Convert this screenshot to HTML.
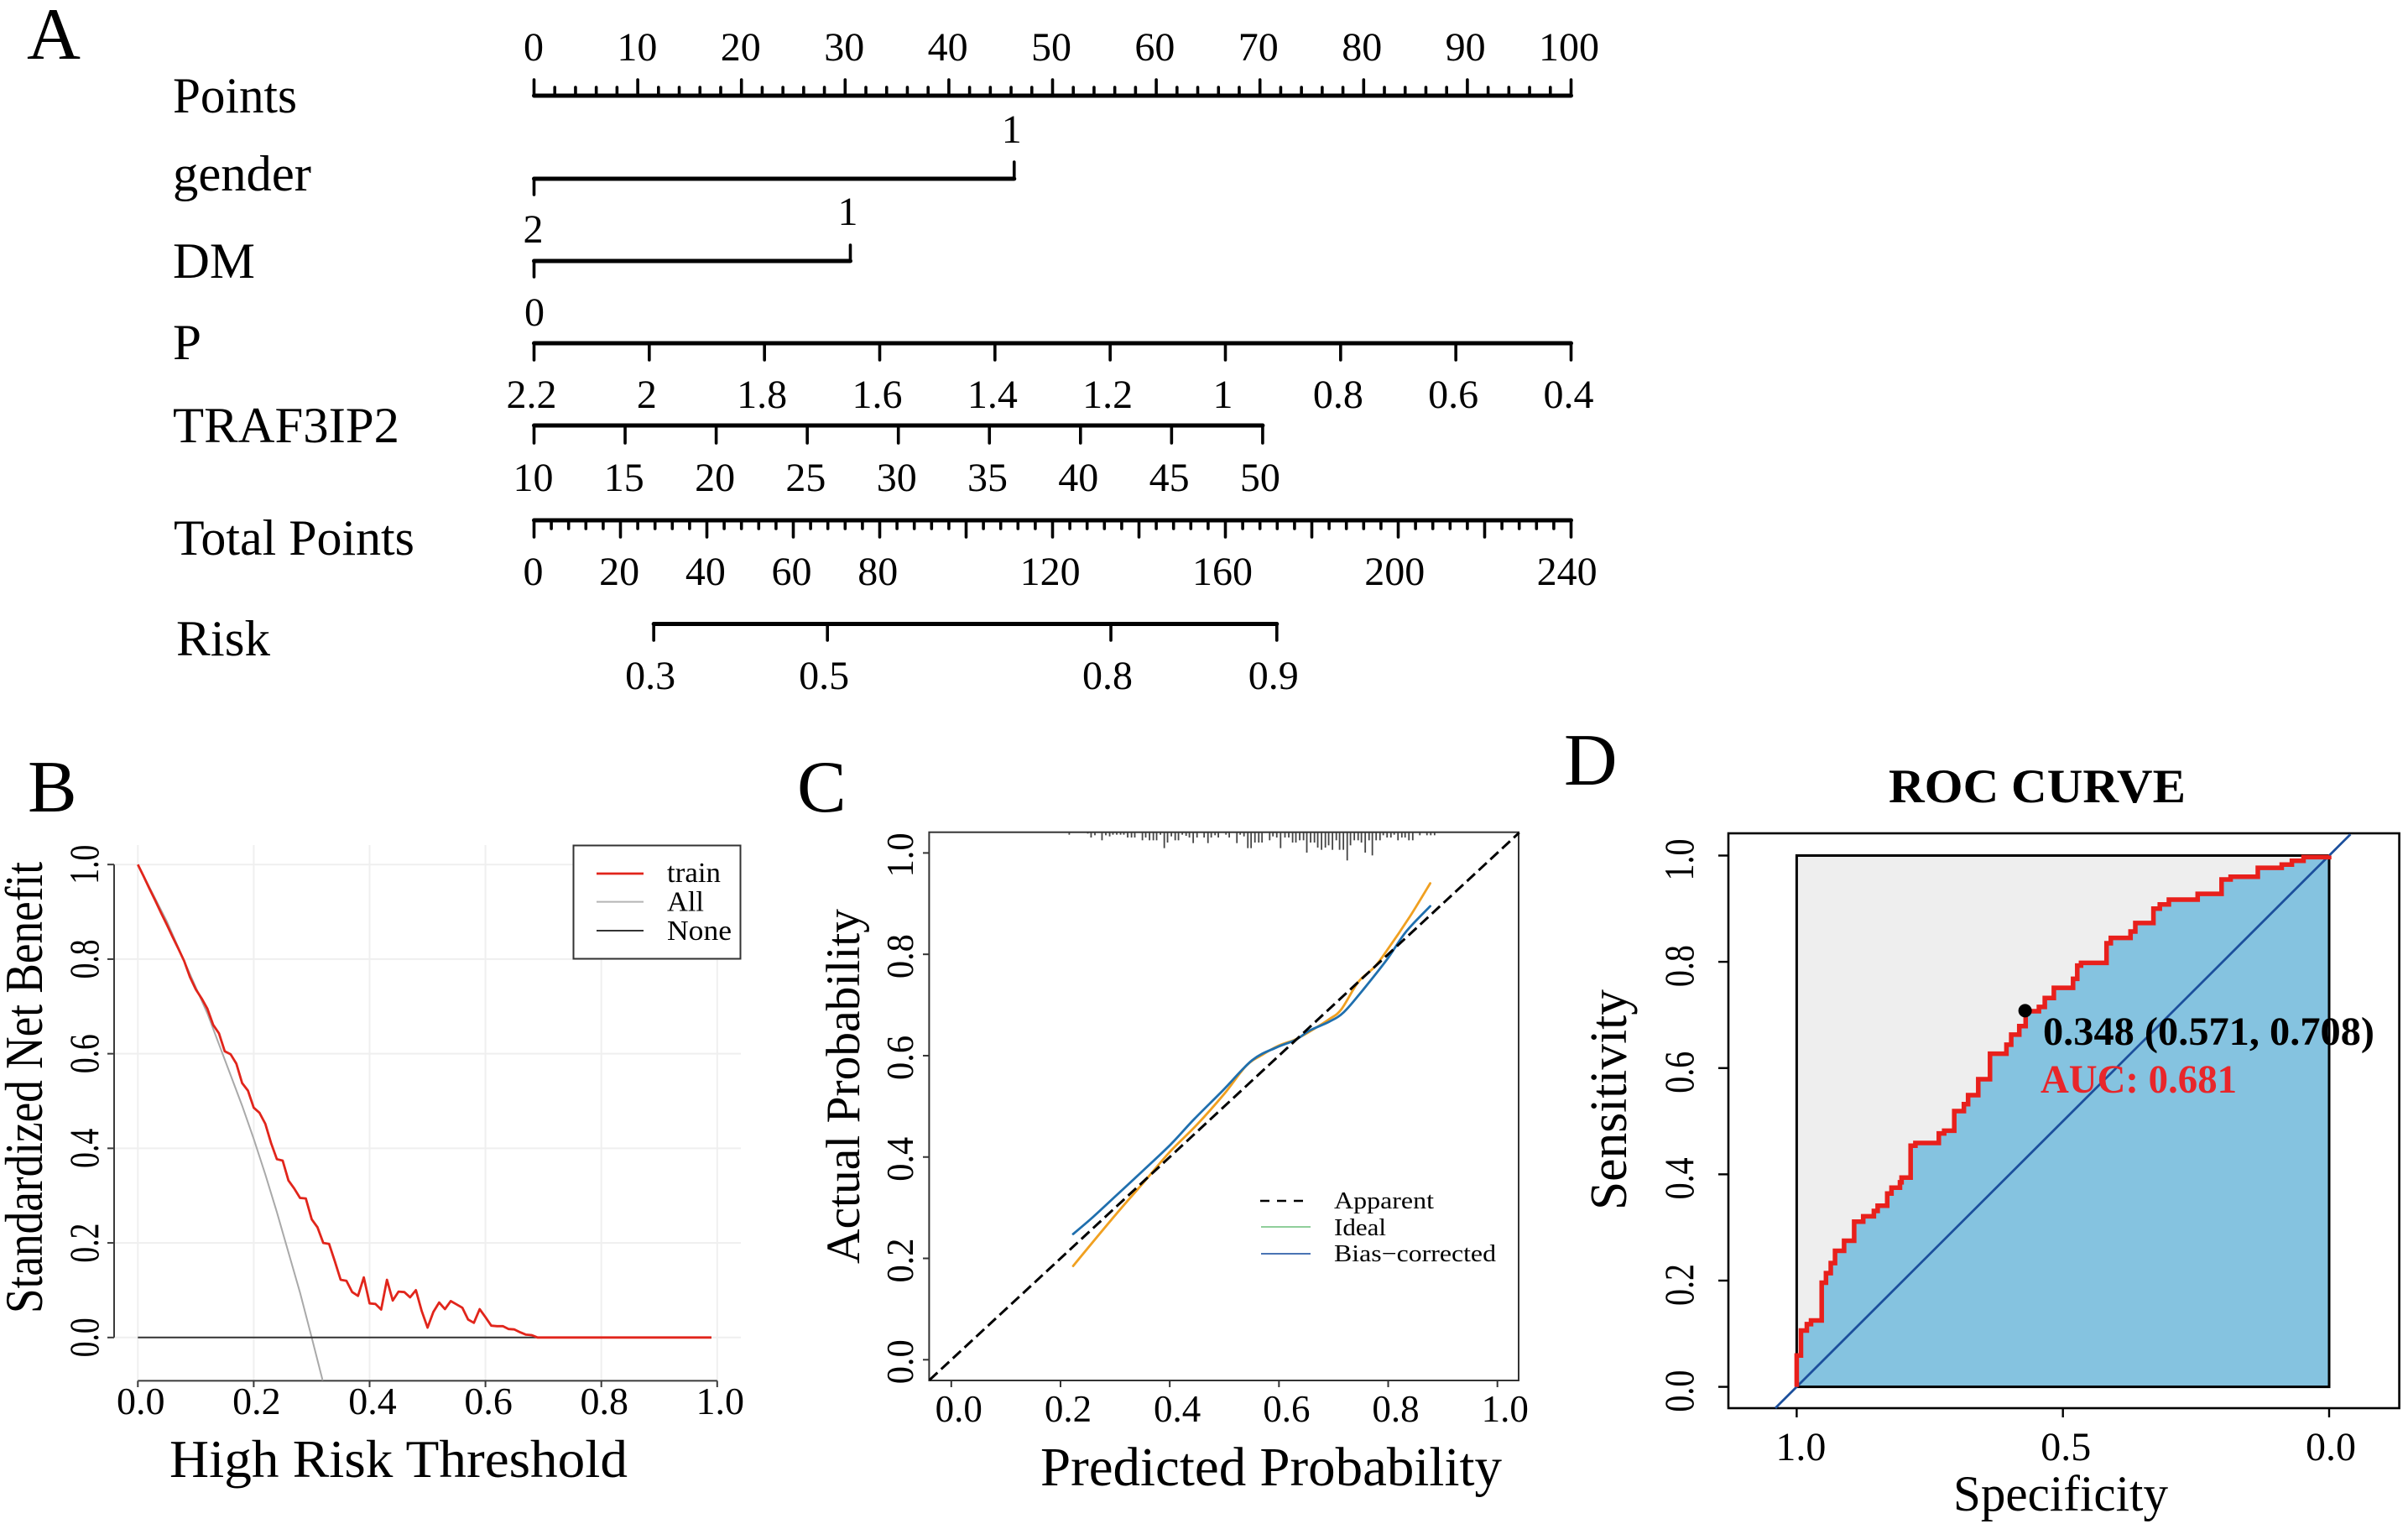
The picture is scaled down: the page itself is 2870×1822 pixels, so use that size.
<!DOCTYPE html>
<html lang="en">
<head>
<meta charset="utf-8">
<title>Nomogram, decision curve, calibration and ROC panels</title>
<style>
html,body{margin:0;padding:0;background:#fff;}
svg{display:block;}
text{font-family:"Liberation Serif",serif;fill:#000;}
</style>
</head>
<body>
<svg id="fig" xmlns="http://www.w3.org/2000/svg" width="2870" height="1822" viewBox="0 0 2870 1822">
  <rect x="0" y="0" width="2870" height="1822" fill="#fff"/>
  <g id="panelA">
    <text x="32" y="70" font-size="88" fill="#231815" textLength="64" lengthAdjust="spacingAndGlyphs">A</text>
    <text x="206" y="134" font-size="60" textLength="148" lengthAdjust="spacingAndGlyphs">Points</text>
    <text x="206" y="227" font-size="60" textLength="165" lengthAdjust="spacingAndGlyphs">gender</text>
    <text x="206" y="331" font-size="60" textLength="98" lengthAdjust="spacingAndGlyphs">DM</text>
    <text x="206" y="428" font-size="60" textLength="34" lengthAdjust="spacingAndGlyphs">P</text>
    <text x="206" y="527" font-size="60" textLength="270" lengthAdjust="spacingAndGlyphs">TRAF3IP2</text>
    <text x="207" y="661" font-size="60" textLength="287" lengthAdjust="spacingAndGlyphs">Total Points</text>
    <text x="210" y="781" font-size="60" textLength="112" lengthAdjust="spacingAndGlyphs">Risk</text>
  </g>
  <g id="panelB">
    <text x="33" y="967" font-size="88" fill="#231815">B</text>
    <text transform="translate(50,1565) rotate(-90)" font-size="64" textLength="538" lengthAdjust="spacingAndGlyphs">Standardized Net Benefit</text>
    <text x="202" y="1760" font-size="64" textLength="546" lengthAdjust="spacingAndGlyphs">High Risk Threshold</text>
  </g>
  <g id="panelC">
    <text x="950" y="967" font-size="88" fill="#231815">C</text>
    <text transform="translate(1024,1506) rotate(-90)" font-size="57" textLength="423" lengthAdjust="spacingAndGlyphs">Actual Probability</text>
    <text x="1240" y="1770" font-size="66" textLength="550" lengthAdjust="spacingAndGlyphs">Predicted Probability</text>
  </g>
  <g id="panelD">
    <text x="1864" y="935" font-size="88" fill="#231815">D</text>
    <text x="2251" y="956" font-size="57" font-weight="bold" textLength="354" lengthAdjust="spacingAndGlyphs">ROC CURVE</text>
    <text transform="translate(1938,1442) rotate(-90)" font-size="62" textLength="263" lengthAdjust="spacingAndGlyphs">Sensitivity</text>
    <text x="2328" y="1800" font-size="60" textLength="256" lengthAdjust="spacingAndGlyphs">Specificity</text>
  </g>
</svg>
<script>
// ---- Panel A values ----
var pointsTicks = [0,10,20,30,40,50,60,70,80,90,100];
var pointsMinor = [2,4,6,8,12,14,16,18,22,24,26,28,32,34,36,38,42,44,46,48,52,54,56,58,62,64,66,68,72,74,76,78,82,84,86,88,92,94,96,98];
var genderPoints = [0,46.3];
var genderLabels = ["1"];
var dmPoints = [0,30.5];
var dmLabels = ["2","1"];
var pValues = [2.2,2,1.8,1.6,1.4,1.2,1,0.8,0.6,0.4];
var pLabels = ["2.2","2","1.8","1.6","1.4","1.2","1","0.8","0.6","0.4"];
var trafValues = [10,15,20,25,30,35,40,45,50];
var totalTicks = [0,20,40,60,80,100,120,140,160,180,200,220,240];
var totalLabelled = [0,20,40,60,80,120,160,200,240];
var riskLabels = ["0.3","0.5","0.8","0.9"];
var riskTotalPoints = [27.7,67.9,133.5,171.9];

// ---- Panel B values ----
var thresholdTicks = [0,0.2,0.4,0.6,0.8,1];
var benefitTicks = [0,0.2,0.4,0.6,0.8,1];
var trainThreshold = [0,0.01,0.02,0.03,0.04,0.05,0.06,0.07,0.08,0.09,0.1,0.11,0.12,0.13,0.14,0.15,0.16,0.17,0.18,0.19,0.2,0.21,0.22,0.23,0.24,0.25,0.26,0.27,0.28,0.29,0.3,0.31,0.32,0.33,0.34,0.35,0.36,0.37,0.38,0.39,0.4,0.41,0.42,0.43,0.44,0.45,0.46,0.47,0.48,0.49,0.5,0.51,0.52,0.53,0.54,0.55,0.56,0.57,0.58,0.59,0.6,0.61,0.62,0.63,0.64,0.65,0.66,0.67,0.68,0.69,0.99];
var trainBenefit = [1,0.975,0.949,0.924,0.898,0.873,0.847,0.822,0.796,0.762,0.736,0.717,0.695,0.661,0.643,0.605,0.599,0.579,0.538,0.522,0.486,0.475,0.452,0.411,0.377,0.374,0.332,0.315,0.295,0.294,0.25,0.233,0.2,0.198,0.161,0.122,0.12,0.096,0.088,0.127,0.072,0.071,0.059,0.122,0.078,0.097,0.096,0.085,0.1,0.056,0.021,0.054,0.074,0.06,0.077,0.07,0.063,0.038,0.031,0.06,0.043,0.025,0.024,0.024,0.018,0.017,0.011,0.006,0.005,0,0];
var allThreshold = [0,0.05,0.1,0.12,0.14,0.16,0.18,0.2,0.22,0.24,0.26,0.28,0.3,0.319];
var allBenefit = [1,0.88,0.74,0.685,0.62,0.555,0.49,0.42,0.345,0.265,0.18,0.095,0,-0.091];
var noneThreshold = [0,0.99];
var noneBenefit = [0,0];

// ---- Panel C values ----
var probTicks = [0,0.2,0.4,0.6,0.8,1];
var idealPred = [-0.04,1.04];
var idealActual = [-0.04,1.04];
var apparentPred = [0.223,0.3,0.35,0.4,0.45,0.5,0.54,0.57,0.6,0.63,0.66,0.692,0.714,0.745,0.775,0.798,0.84,0.877];
var apparentActual = [0.185,0.285,0.347,0.41,0.464,0.525,0.58,0.602,0.62,0.632,0.65,0.672,0.691,0.745,0.775,0.808,0.875,0.94];
var biasPred = [0.223,0.26,0.304,0.348,0.4,0.445,0.498,0.551,0.595,0.63,0.657,0.692,0.719,0.754,0.798,0.833,0.877];
var biasActual = [0.248,0.282,0.326,0.37,0.423,0.475,0.532,0.591,0.616,0.631,0.65,0.667,0.686,0.73,0.79,0.845,0.895];
var rugProb = [0.216,0.25,0.256,0.263,0.276,0.283,0.29,0.296,0.303,0.31,0.316,0.323,0.33,0.336,0.35,0.356,0.363,0.37,0.376,0.383,0.39,0.396,0.403,0.41,0.416,0.423,0.43,0.436,0.443,0.45,0.463,0.47,0.476,0.483,0.489,0.503,0.509,0.523,0.529,0.536,0.543,0.549,0.556,0.563,0.569,0.583,0.589,0.596,0.603,0.611,0.618,0.625,0.631,0.638,0.645,0.651,0.658,0.665,0.671,0.678,0.685,0.691,0.698,0.705,0.711,0.718,0.725,0.731,0.738,0.745,0.751,0.758,0.765,0.771,0.778,0.785,0.791,0.798,0.805,0.811,0.818,0.825,0.831,0.838,0.845,0.858,0.871,0.878,0.885];
var rugFreq = [8,4,18,10,28,10,14,8,8,8,8,18,18,18,28,18,28,28,28,8,56,36,14,28,28,8,12,18,38,18,18,38,18,10,18,8,18,38,8,14,56,56,36,36,36,28,14,18,56,18,18,36,36,28,28,72,36,36,54,62,54,46,62,28,62,62,100,46,28,28,36,72,28,82,28,28,10,18,18,8,28,18,18,28,28,10,10,10,10];

// ---- Panel D values ----
var specTicks = [1,0.5,0];
var specLabels = ["1.0","0.5","0.0"];
var sensTicks = [0,0.2,0.4,0.6,0.8,1];
var rocSpec = [1,0.992,0.981,0.973,0.953,0.945,0.936,0.928,0.911,0.892,0.875,0.855,0.848,0.83,0.822,0.806,0.803,0.786,0.777,0.733,0.723,0.704,0.686,0.678,0.659,0.637,0.606,0.597,0.582,0.57,0.545,0.534,0.517,0.481,0.473,0.466,0.418,0.41,0.373,0.364,0.33,0.318,0.301,0.247,0.202,0.185,0.134,0.089,0.07,0.048,0];
var rocSens = [0.059,0.106,0.118,0.125,0.196,0.214,0.233,0.256,0.275,0.311,0.321,0.331,0.341,0.364,0.375,0.385,0.394,0.454,0.459,0.477,0.482,0.519,0.532,0.549,0.579,0.627,0.644,0.663,0.679,0.707,0.715,0.732,0.751,0.768,0.793,0.798,0.835,0.845,0.857,0.873,0.9,0.908,0.917,0.928,0.955,0.96,0.977,0.983,0.99,0.997,1];
var refSpec = [1.04,-0.04];
var refSens = [-0.04,1.04];
var cutSpec = [0.571];
var cutSens = [0.708];

// ---- helpers ----
var NS = "http://www.w3.org/2000/svg";
function mk(tag, parent, attrs) {
  var el = document.createElementNS(NS, tag);
  for (var k in attrs) { el.setAttribute(k, attrs[k]); }
  parent.appendChild(el);
  return el;
}
function seg(parent, x1, y1, x2, y2, stroke, w, cap) {
  return mk("line", parent, {x1:x1, y1:y1, x2:x2, y2:y2, stroke:stroke, "stroke-width":w, "stroke-linecap":cap || "butt"});
}
function txt(parent, s, x, y, size, anchor) {
  var t = mk("text", parent, {x:x, y:y, "font-size":size, "text-anchor":anchor || "middle"});
  t.textContent = s;
  return t;
}
function rtxt(parent, s, x, y, size, len) {
  var t = mk("text", parent, {transform:"translate(" + x + "," + y + ") rotate(-90)", "font-size":size, "text-anchor":"middle", textLength:len, lengthAdjust:"spacingAndGlyphs"});
  t.textContent = s;
  return t;
}
function poly(parent, xs, ys, fx, fy, stroke, w) {
  var pts = xs.map(function (v, i) { return fx(v).toFixed(1) + "," + fy(ys[i]).toFixed(1); }).join(" ");
  return mk("polyline", parent, {points:pts, fill:"none", stroke:stroke, "stroke-width":w, "stroke-linejoin":"round"});
}
function smooth(parent, xs, ys, fx, fy, stroke, w) {
  var p = xs.map(function (v, i) { return [fx(v), fy(ys[i])]; });
  var d = "M" + p[0][0].toFixed(1) + " " + p[0][1].toFixed(1);
  for (var i = 0; i < p.length - 1; i++) {
    var a = p[Math.max(i - 1, 0)], b = p[i], c = p[i + 1], e = p[Math.min(i + 2, p.length - 1)];
    d += " C" + (b[0] + (c[0] - a[0]) / 6).toFixed(1) + " " + (b[1] + (c[1] - a[1]) / 6).toFixed(1) +
         " " + (c[0] - (e[0] - b[0]) / 6).toFixed(1) + " " + (c[1] - (e[1] - b[1]) / 6).toFixed(1) +
         " " + c[0].toFixed(1) + " " + c[1].toFixed(1);
  }
  return mk("path", parent, {d:d, fill:"none", stroke:stroke, "stroke-width":w, "stroke-linecap":"round"});
}
var panelA = document.getElementById("panelA");
var panelB = document.getElementById("panelB");
var panelC = document.getElementById("panelC");
var panelD = document.getElementById("panelD");

// ---- Panel A drawing ----
var NW = 5, TW = 3.6, LBL = 48, NC = "#000";
function xPoints(v) { return 636.5 + v * 12.36; }
function xP(v) { return xPoints((2.2 - v) / 1.8 * 100); }
function xTraf(v) { return 636.5 + (v - 10) * 21.71; }
function xTotal(v) { return 636.5 + v * 5.15; }

var ptsAxis = seg(panelA, xPoints(0), 114, xPoints(100), 114, NC, NW, "round");


pointsTicks.forEach(function (v) {
  var t = seg(panelA, xPoints(v), 114, xPoints(v), 95, NC, TW, "round");
  
  
  var l = txt(panelA, String(v), xPoints(v) - 0.5 - v * 0.02, 72, LBL);
  
  
});
pointsMinor.forEach(function (v) {
  var t = seg(panelA, xPoints(v), 114, xPoints(v), 104, NC, TW, "round");
  
  
});

var gAxis = seg(panelA, xPoints(genderPoints[0]), 213, xPoints(genderPoints[1]), 213, NC, NW, "round");


var gTick0 = seg(panelA, xPoints(genderPoints[0]), 213, xPoints(genderPoints[0]), 232, NC, TW, "round");


var gTick1 = seg(panelA, xPoints(genderPoints[1]), 213, xPoints(genderPoints[1]), 193, NC, TW, "round");


var gLabel = txt(panelA, genderLabels[0], xPoints(genderPoints[1]) - 3, 170, LBL);



var dAxis = seg(panelA, xPoints(dmPoints[0]), 311, xPoints(dmPoints[1]), 311, NC, NW, "round");


var dTick0 = seg(panelA, xPoints(dmPoints[0]), 311, xPoints(dmPoints[0]), 330, NC, TW, "round");


var dTick1 = seg(panelA, xPoints(dmPoints[1]), 311, xPoints(dmPoints[1]), 292, NC, TW, "round");


var dLabel0 = txt(panelA, dmLabels[0], xPoints(dmPoints[0]) - 1, 289, LBL);


var dLabel1 = txt(panelA, dmLabels[1], xPoints(dmPoints[1]) - 3, 268, LBL);



var pAxis = seg(panelA, xP(pValues[0]), 409, xP(pValues[pValues.length - 1]), 409, NC, NW, "round");


var pZero = txt(panelA, "0", xP(2.2) + 0.5, 388, LBL);


pValues.forEach(function (v, i) {
  var t = seg(panelA, xP(v), 409, xP(v), 429, NC, TW, "round");
  
  
  var l = txt(panelA, pLabels[i], xP(v) - 3, 486, LBL);
  
  
});

var tAxis = seg(panelA, xTraf(10), 507, xTraf(50), 507, NC, NW, "round");


trafValues.forEach(function (v) {
  var t = seg(panelA, xTraf(v), 507, xTraf(v), 528, NC, TW, "round");
  
  
  var l = txt(panelA, String(v), xTraf(v) - 1 - (v - 10) * 0.05, 585, LBL);
  
  
});

var totAxis = seg(panelA, xTotal(0), 620, xTotal(240), 620, NC, NW, "round");


for (var tp = 0; tp <= 240; tp += 4) {
  if (tp % 20 !== 0) {
    var tMinor = seg(panelA, xTotal(tp), 620, xTotal(tp), 630, NC, TW, "round");
    
    
  }
}
totalTicks.forEach(function (v) {
  var t = seg(panelA, xTotal(v), 620, xTotal(v), 640, NC, TW, "round");
  
  
});
totalLabelled.forEach(function (v) {
  var l = txt(panelA, String(v), xTotal(v) - 1 - v * 0.016, 697, LBL);
  
  
});

var rAxis = seg(panelA, xTotal(riskTotalPoints[0]), 743.5, xTotal(riskTotalPoints[3]), 743.5, NC, NW, "round");


riskTotalPoints.forEach(function (v, i) {
  var t = seg(panelA, xTotal(v), 743.5, xTotal(v), 763, NC, TW, "round");
  
  
  var l = txt(panelA, riskLabels[i], xTotal(v) - 4, 821, LBL);
  
  
});

// ---- Panel B drawing ----
function xB(v) { return 164.3 + v * 690.5; }
function yB(v) { return 1593.8 - v * 563.6; }
var AX = "#3a3a3a";
thresholdTicks.forEach(function (v) {
  var g = seg(panelB, xB(v), 1007, xB(v), 1645, "#efefef", 2);
  
  
});
benefitTicks.forEach(function (v) {
  var g = seg(panelB, 136, yB(v), 883, yB(v), "#efefef", 2);
  
  
});
var bYAxis = seg(panelB, 136, yB(0), 136, yB(1), AX, 2);


var bXAxis = seg(panelB, xB(0), 1645.4, xB(1), 1645.4, AX, 2);


benefitTicks.forEach(function (v) {
  var t = seg(panelB, 128, yB(v), 136, yB(v), AX, 2);
  
  
  var l = rtxt(panelB, v.toFixed(1), 117, yB(v), 50, 47);
  
  
});
thresholdTicks.forEach(function (v) {
  var t = seg(panelB, xB(v), 1645.4, xB(v), 1653, AX, 2);
  
  
  var l = txt(panelB, v.toFixed(1), xB(v) + 3.5, 1685, 46);
  
  
});
var allLine = poly(panelB, allThreshold, allBenefit, xB, yB, "#a9a9a9", 2);


var noneLine = poly(panelB, noneThreshold, noneBenefit, xB, yB, "#333", 2);


var trainLine = poly(panelB, trainThreshold, trainBenefit, xB, yB, "#e1251b", 2.8);



var bLegend = mk("g", panelB, {});


var bBox = mk("rect", bLegend, {x:683.5, y:1007.5, width:199, height:135, fill:"#fff", stroke:"#333", "stroke-width":2});


var lg1 = seg(bLegend, 711, 1041, 767, 1041, "#e1251b", 2.8);


var lg2 = seg(bLegend, 711, 1074.6, 767, 1074.6, "#b5b5b5", 2);


var lg3 = seg(bLegend, 711, 1109, 767, 1109, "#333", 2);


var lt1 = txt(bLegend, "train", 795, 1051, 34, "start");
lt1.setAttribute("textLength", "64");
lt1.setAttribute("lengthAdjust", "spacingAndGlyphs");


var lt2 = txt(bLegend, "All", 795, 1085.5, 34, "start");
lt2.setAttribute("textLength", "44");
lt2.setAttribute("lengthAdjust", "spacingAndGlyphs");


var lt3 = txt(bLegend, "None", 795, 1120, 34, "start");
lt3.setAttribute("textLength", "77");
lt3.setAttribute("lengthAdjust", "spacingAndGlyphs");



// ---- Panel C drawing ----
function xC(v) { return 1133.8 + v * 650.9; }
function yC(v) { return 1620.3 - v * 603.9; }
var cFrame = mk("rect", panelC, {x:1107.4, y:991.7, width:702.6, height:653.3, fill:"none", stroke:"#333", "stroke-width":2});


probTicks.forEach(function (v) {
  var t = seg(panelC, xC(v), 1645, xC(v), 1653, "#333", 2);
  
  
  var l = txt(panelC, v.toFixed(1), xC(v) + 9, 1694, 45);
  
  
  var ty = seg(panelC, 1100, yC(v), 1107.4, yC(v), "#333", 2);
  
  
  var ly = rtxt(panelC, v.toFixed(1), 1088, yC(v) + 2.5, 46, 53);
  
  
});
rugProb.forEach(function (p, i) {
  var r = seg(panelC, xC(p), 992, xC(p), 992 + rugFreq[i] / 3, "#444", 1.8);
  
  
});
var appLine = smooth(panelC, apparentPred, apparentActual, xC, yC, "#f0a020", 2.8);


var biasLine = smooth(panelC, biasPred, biasActual, xC, yC, "#1f6fae", 2.8);


var idealLine = poly(panelC, idealPred, idealActual, xC, yC, "#000", 3);
idealLine.setAttribute("stroke-dasharray", "13 6");



var cLegend = mk("g", panelC, {});


var cs1 = seg(cLegend, 1502, 1431, 1553, 1431, "#000", 2.6);
cs1.setAttribute("stroke-dasharray", "11 9");


var cs2 = seg(cLegend, 1503, 1462, 1562, 1462, "#6cbf7a", 1.6);


var cs3 = seg(cLegend, 1503, 1494, 1562, 1494, "#4a74b4", 2);


var ct1 = txt(cLegend, "Apparent", 1590, 1440, 28, "start");
ct1.setAttribute("textLength", "119");
ct1.setAttribute("lengthAdjust", "spacingAndGlyphs");


var ct2 = txt(cLegend, "Ideal", 1590, 1472, 28, "start");
ct2.setAttribute("textLength", "62");
ct2.setAttribute("lengthAdjust", "spacingAndGlyphs");


var ct3 = txt(cLegend, "Bias\u2212corrected", 1590, 1503, 28, "start");
ct3.setAttribute("textLength", "193");
ct3.setAttribute("lengthAdjust", "spacingAndGlyphs");



// ---- Panel D drawing ----
function xD(v) { return 2776 - v * 634.6; }
function yD(v) { return 1652.6 - v * 633.1; }
var dFrame = mk("rect", panelD, {x:2060, y:993, width:799.6, height:685, fill:"none", stroke:"#000", "stroke-width":2.6});


var greyBg = mk("rect", panelD, {x:xD(1), y:yD(1), width:xD(0) - xD(1), height:yD(0) - yD(1), fill:"#eeeeee"});


var stepPts = [[xD(1), yD(0)]];
rocSpec.forEach(function (s, i) {
  var prevSens = i === 0 ? 0 : rocSens[i - 1];
  stepPts.push([xD(s), yD(prevSens)]);
  stepPts.push([xD(s), yD(rocSens[i])]);
});
var stepStr = stepPts.map(function (p) { return p[0].toFixed(1) + "," + p[1].toFixed(1); }).join(" ");
var aucFill = mk("polygon", panelD, {points:stepStr + " " + xD(0) + "," + yD(0), fill:"#85c3e0"});


var innerBox = mk("rect", panelD, {x:xD(1), y:yD(1), width:xD(0) - xD(1), height:yD(0) - yD(1), fill:"none", stroke:"#000", "stroke-width":3});


var refLine = poly(panelD, refSpec, refSens, xD, yD, "#1c4f9c", 2.8);


var rocLine = mk("polyline", panelD, {points:stepStr, fill:"none", stroke:"#e8201c", "stroke-width":5.5, "stroke-linejoin":"miter"});


var cutDot = mk("circle", panelD, {cx:xD(cutSpec[0]), cy:yD(cutSens[0]), r:8, fill:"#000"});


specTicks.forEach(function (v, i) {
  var t = seg(panelD, xD(v), 1678, xD(v), 1689, "#000", 2.4);
  
  
  var l = txt(panelD, specLabels[i], xD(v) + 2 + v * 3, 1740, 48);
  
  
});
sensTicks.forEach(function (v) {
  var t = seg(panelD, 2048, yD(v), 2060, yD(v), "#000", 2.4);
  
  
  var l = rtxt(panelD, v.toFixed(1), 2018, yD(v) + 5, 50, 50);
  
  
});
var cutText = txt(panelD, "0.348 (0.571, 0.708)", 2435, 1245, 48, "start");
cutText.setAttribute("font-weight", "bold");
cutText.setAttribute("textLength", "395");
cutText.setAttribute("lengthAdjust", "spacingAndGlyphs");


var aucText = txt(panelD, "AUC: 0.681", 2432, 1302, 48, "start");
aucText.setAttribute("font-weight", "bold");
aucText.setAttribute("textLength", "234");
aucText.setAttribute("lengthAdjust", "spacingAndGlyphs");
aucText.style.fill = "#e8262a";


</script>
</body>
</html>
